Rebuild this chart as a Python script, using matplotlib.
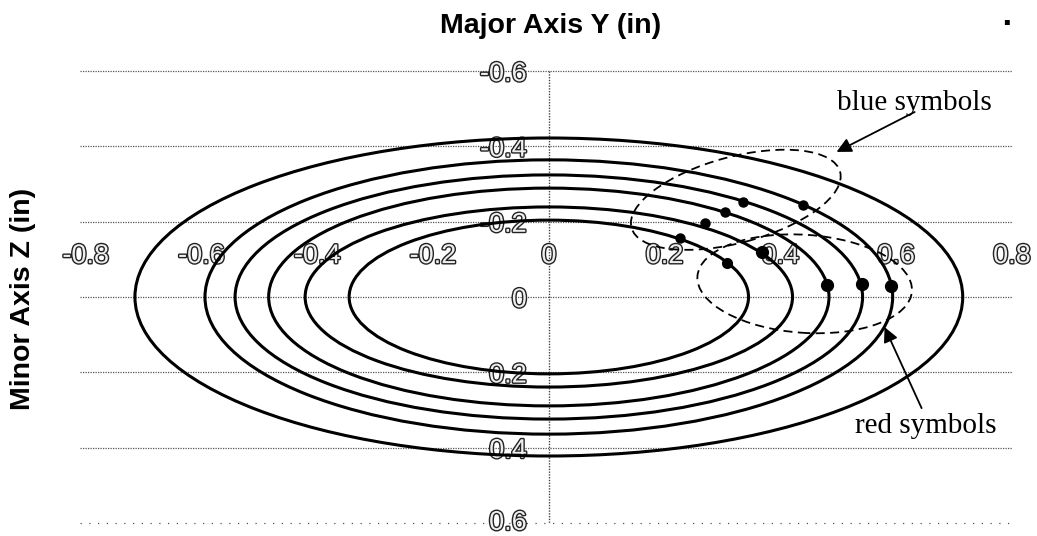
import matplotlib
matplotlib.use("Agg")
import matplotlib.pyplot as plt
import matplotlib.patheffects as pe
from matplotlib.patches import Ellipse
from matplotlib.transforms import ScaledTranslation

# contour ellipses (semi-axes, inches of Y and Z)
contour_a = [0.715, 0.594, 0.542, 0.484, 0.421, 0.345]
contour_b = [0.422, 0.364, 0.324, 0.289, 0.239, 0.204]

# measured points
blue_y = [0.226, 0.269, 0.304, 0.335, 0.439]
blue_z = [-0.157, -0.196, -0.226, -0.252, -0.244]
red_y = [0.307, 0.368, 0.480, 0.541, 0.591]
red_z = [-0.090, -0.119, -0.032, -0.035, -0.029]
red_size = [7, 8.5, 8.5, 8.5, 8.5]

x_ticks = [-0.8, -0.6, -0.4, -0.2, 0, 0.2, 0.4, 0.6, 0.8]
x_tick_labels = ['-0.8', '-0.6', '-0.4', '-0.2', '0', '0.2', '0.4', '0.6', '0.8']
y_ticks = [-0.6, -0.4, -0.2, 0, 0.2, 0.4, 0.6]
y_tick_labels = ['-0.6', '-0.4', '-0.2', '0', '0.2', '0.4', '0.6']

fig = plt.figure(figsize=(10.37, 5.36), dpi=100)
ax = fig.add_axes([0.0771, 0.0136, 0.8987, 0.8646])
ax.set_xlim(-0.81, 0.80)
ax.set_ylim(0.615, -0.615)
ax.set_autoscale_on(False)
ax.axis('off')

# gridlines + vertical axis through zero
for yv in y_ticks:
    dash = (0, (1, 6)) if yv == 0.6 else (0, (1, 1))
    ax.axhline(yv, color='#555555', lw=0.9, ls=dash, zorder=1)
ax.plot([0, 0], [-0.6, 0.6], color='#444444', lw=1.0, ls=(0, (1, 1)), zorder=1)

for a, b in zip(contour_a, contour_b):
    ax.add_patch(Ellipse((0, 0), 2 * a, 2 * b, fill=False, ec='black', lw=2.2, zorder=3))

ax.plot(blue_y, blue_z, 'o', color='black', ms=6.5, zorder=4)
for yy, zz, s in zip(red_y, red_z, red_size):
    ax.plot(yy, zz, 'o', color='black', ms=s, zorder=4)

# dashed groupings, sized in inches around a data centre
def ring(cx, cy, w, h, ang):
    tr = fig.dpi_scale_trans + ScaledTranslation(cx, cy, ax.transData)
    ax.add_patch(Ellipse((0, 0), w, h, angle=ang, transform=tr, fill=False,
                         ec='black', lw=1.3, ls=(0, (5, 3)), zorder=5))

ring(0.323, -0.258, 2.16, 0.86, 15)
ring(0.442, -0.035, 2.15, 0.98, -4)

# hollow-looking tick numbers
outline = [pe.withStroke(linewidth=2.0, foreground='#222222')]
for xv, lab in zip(x_ticks, x_tick_labels):
    ax.text(xv, -0.090, lab, ha='center', va='baseline', fontsize=19.5,
            family='Liberation Sans', color='#eeeeee', path_effects=outline, zorder=2)
for yv, lab in zip(y_ticks, y_tick_labels):
    yb = yv + 0.027 if yv < 0.6 else yv + 0.018
    ax.text(-0.038, yb, lab, ha='right', va='baseline', fontsize=19.5,
            family='Liberation Sans', color='#eeeeee', path_effects=outline, zorder=2)

ax.text(0.632, -0.496, 'blue symbols', ha='center', va='baseline', fontsize=21,
        family='Liberation Serif', zorder=6)
ax.text(0.652, 0.361, 'red symbols', ha='center', va='baseline', fontsize=21,
        family='Liberation Serif', zorder=6)
arrow = dict(arrowstyle='-|>', color='black', lw=1.3, mutation_scale=22,
             shrinkA=0, shrinkB=0)
ax.annotate('', xy=(0.497, -0.385), xytext=(0.632, -0.491), arrowprops=arrow, zorder=6)
ax.annotate('', xy=(0.580, 0.080), xytext=(0.644, 0.295), arrowprops=arrow, zorder=6)

fig.text(0.531, 0.938, 'Major Axis Y (in)', ha='center', va='baseline', fontsize=20.5,
         fontweight='bold', family='Liberation Sans')
fig.text(0.022, 0.443, 'Minor Axis Z (in)', ha='center', va='center', rotation=90,
         fontsize=20.5, fontweight='bold', family='Liberation Sans')
fig.text(0.971, 0.953, '.', ha='center', va='baseline', fontsize=20, fontweight='bold')

fig.savefig('out.png', dpi=100)
